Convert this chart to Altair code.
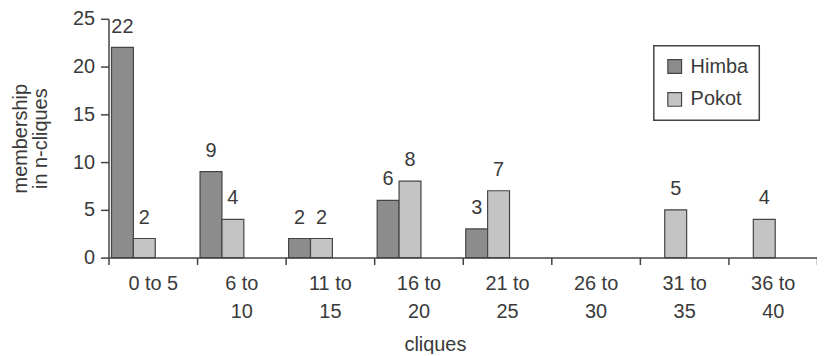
import altair as alt
import pandas as pd

categories = ["0 to 5", "6 to 10", "11 to 15", "16 to 20", "21 to 25", "26 to 30", "31 to 35", "36 to 40"]
himba = [22, 9, 2, 6, 3, 0, 0, 0]
pokot = [2, 4, 2, 8, 7, 0, 5, 4]
groups = ["Himba", "Pokot"]

rows = []
for c, h, p in zip(categories, himba, pokot):
    rows.append({"cat": c, "group": "Himba", "value": h})
    rows.append({"cat": c, "group": "Pokot", "value": p})
df = pd.DataFrame(rows)
df = df[df["value"] > 0]

FONT = "Liberation Sans"
TXT = "#3a3a3a"

x = alt.X(
    "cat:N",
    sort=categories,
    scale=alt.Scale(domain=categories, paddingInner=0, paddingOuter=0),
    axis=alt.Axis(
        title="cliques",
        labelAngle=0,
        labelExpr="!isValid(datum.value) || datum.value == '' ? '' : (datum.value == '0 to 5' ? datum.value : [split(datum.value, ' to ')[0] + ' to', split(datum.value, ' to ')[1]])",
        labelLineHeight=28,
        labelPadding=25,
        labelBaseline="alphabetic",
        labelFontSize=20,
        tickBand="extent",
        tickSize=7,
        titleX=328,
        titleY=93,
        titleBaseline="alphabetic",
        titleAnchor="middle",
        titleFontSize=20,
    ),
)
xoff = alt.XOffset(
    "group:N",
    scale=alt.Scale(domain=["Himba", "Pokot", "_a", "_b"], range=[3, 91], paddingInner=0, paddingOuter=0),
)
y = alt.Y(
    "value:Q",
    scale=alt.Scale(domain=[0, 25], nice=False),
    axis=alt.Axis(
        values=[0, 5, 10, 15, 20, 25],
        title=["membership", "in n-cliques"],
        titleLineHeight=20,
        titlePadding=22,
        titleFontSize=20,
        labelFontSize=20,
        tickSize=8,
        labelPadding=6,
        grid=False,
    ),
)
color = alt.Color(
    "group:N",
    scale=alt.Scale(domain=groups, range=["#8c8c8c", "#c4c4c4"]),
    legend=alt.Legend(
        title=None,
        orient="none",
        legendX=548,
        legendY=27,
        symbolType="square",
        symbolSize=190,
        symbolStrokeColor="#444444",
        symbolStrokeWidth=1.2,
        labelFontSize=20,
        labelOffset=6,
        rowPadding=13,
        padding=11,
        strokeColor="#444444",
        fillColor="white",
    ),
)

bars = alt.Chart(df).mark_bar(stroke="#444444", strokeWidth=1.2).encode(
    x=x, xOffset=xoff, y=y, color=color
)
labels = alt.Chart(df).mark_text(
    baseline="alphabetic", dy=-15, fontSize=20, color=TXT, font=FONT
).encode(x=x, xOffset=xoff, y=y, text="value:Q")

chart = (
    alt.layer(bars, labels)
    .properties(
        width=712,
        height=240,
        autosize=alt.AutoSizeParams(type="none"),
        padding={"left": 101, "top": 10, "right": 0, "bottom": 96},
    )
    .configure_view(stroke=None)
    .configure_axis(
        labelFont=FONT,
        titleFont=FONT,
        labelColor=TXT,
        titleColor=TXT,
        titleFontWeight="normal",
        domainColor="#444444",
        domainWidth=1.5,
        tickColor="#444444",
        tickWidth=1.5,
    )
    .configure_legend(labelFont=FONT, labelColor=TXT, strokeWidth=1.5)
)

chart.save("out.html", embed_options={"renderer": "svg", "actions": False})
